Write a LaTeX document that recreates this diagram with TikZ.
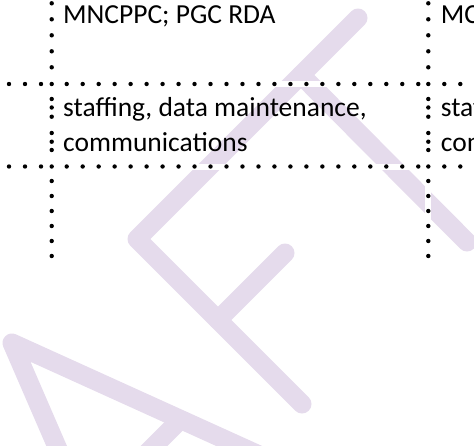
\documentclass[tikz,border=0pt]{standalone}
\usepackage{fontspec}
\setmainfont{Carlito}
\definecolor{wmPurple}{RGB}{229,219,236}
\tikzset{
  wm/.style={line width=19pt, color=wmPurple, line cap=round, line join=round},
  gap/.style={line width=6pt, white},
  celltext/.style={anchor=base west, inner sep=0pt, font=\fontsize{27.5}{33}\selectfont},
}

\begin{document}
\begin{tikzpicture}[x=1pt,y=-1pt]
  \useasboundingbox (0,0) rectangle (474,445);
  \clip (0,0) rectangle (474,445);
  % watermark letters A, F, T
  \draw[wm] (77,493)--(12,343)--(312,479);
  \draw[wm] (180,420)--(120,480);
  \draw[wm] (358,18)--(137,239)--(302,404);
  \draw[wm] (218,320)--(285,253);
  \draw[wm] (301,75)--(467,242);
  % cell borders
  \draw[gap] (0,84)--(474,84);
  \draw[gap] (0,166.5)--(474,166.5);
  \draw[gap] (51.7,0)--(51.7,258);
  \draw[gap] (428.3,0)--(428.3,258);
  \foreach \y in {3.3,19.3,35.3,51.3,67.3,84,99,107.5,116.7,133,141.7,150,166.5,181,196,211,226,241,256}
    {\fill (51.7,\y) circle (2.2); \fill (428.3,\y) circle (2.2);}
  \foreach \y in {84,166.5}{
    \foreach \x in {9,25,41,444.3,460.3}
      \fill (\x,\y) circle (2.2);
    \foreach \k in {0,...,22}
      \fill ({66.7+15.98*\k},\y) circle (2.2);
  }
  % cell texts
  \node[celltext] (agencyA) at (63,23) {MNCPPC; PGC RDA};
  \node[celltext] (agencyB) at (440.7,23) {MC};
  \node[celltext] (roleA1) at (63,116.5) {staffing, data maintenance,};
  \node[celltext] (roleA2) at (63,151.7) {communications};
  \node[celltext] (roleB1) at (440.7,116.5) {staf};
  \node[celltext] (roleB2) at (440.7,151.7) {com};
\end{tikzpicture}
\end{document}
